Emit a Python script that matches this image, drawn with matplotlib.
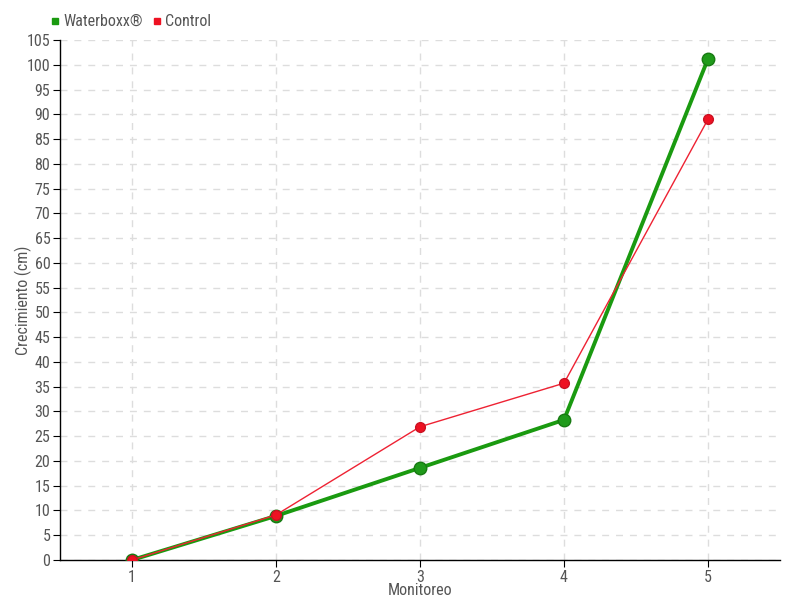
import matplotlib
matplotlib.use("Agg")
import matplotlib.pyplot as plt
from matplotlib.font_manager import fontManager
from matplotlib.lines import Line2D

monitoreo = [1, 2, 3, 4, 5]
waterboxx = [0, 8.9, 18.6, 28.3, 101.2]
control = [0, 9.1, 26.9, 35.7, 89.0]
y_ticks = list(range(0, 106, 5))

# pick a narrow family if one is installed
names = {f.name for f in fontManager.ttflist}
fam = "DejaVu Sans"
for cand in ["Roboto Condensed", "Open Sans Condensed", "Liberation Sans Narrow",
             "DejaVu Sans Condensed", "Roboto"]:
    if cand in names:
        fam = cand
        break
plt.rcParams["font.family"] = [fam, "DejaVu Sans"]
plt.rcParams["font.stretch"] = "condensed"

txt = "#555555"
fs = 11.5
fig = plt.figure(figsize=(8, 6), dpi=100)
ax = fig.add_axes([0.075, 0.0667, 0.9, 0.8666])

ax.plot(monitoreo, waterboxx, color="#1a9a10", lw=2.8, marker="o", ms=9,
        mfc="#1f9a1a", mec="#177a12", mew=1, zorder=3)
ax.plot(monitoreo, control, color="#ee2233", lw=1, marker="o", ms=7,
        mfc="#ee1122", mec="#cc1122", mew=1, zorder=4)

ax.set_xlim(0.5, 5.5)
ax.set_ylim(0, 105)
ax.set_xticks(monitoreo)
ax.set_yticks(y_ticks)
ax.grid(True, color="#dddddd", ls=(0, (5, 5)), lw=1)
ax.set_axisbelow(True)
for s in ["top", "right"]:
    ax.spines[s].set_visible(False)
for s in ["left", "bottom"]:
    ax.spines[s].set_color("black")
    ax.spines[s].set_linewidth(1)
ax.tick_params(axis="both", colors="black", labelcolor=txt, labelsize=fs,
               length=5, direction="out", pad=2)

ax.set_xlabel("Monitoreo", color=txt, fontsize=fs, labelpad=-1)
ax.set_ylabel("Crecimiento (cm)", color=txt, fontsize=fs, labelpad=-4)

handles = [Line2D([], [], ls="none", marker="s", ms=5, color="#1a9a10"),
           Line2D([], [], ls="none", marker="s", ms=5, color="#ee1122")]
leg = fig.legend(handles, ["Waterboxx®", "Control"], loc="upper left",
                 bbox_to_anchor=(0.055, 0.987), ncol=2, frameon=False,
                 fontsize=fs, handlelength=0.6, handletextpad=0.2,
                 columnspacing=0.6, borderaxespad=0)
for t in leg.get_texts():
    t.set_color(txt)

fig.savefig("out.png", dpi=100)
